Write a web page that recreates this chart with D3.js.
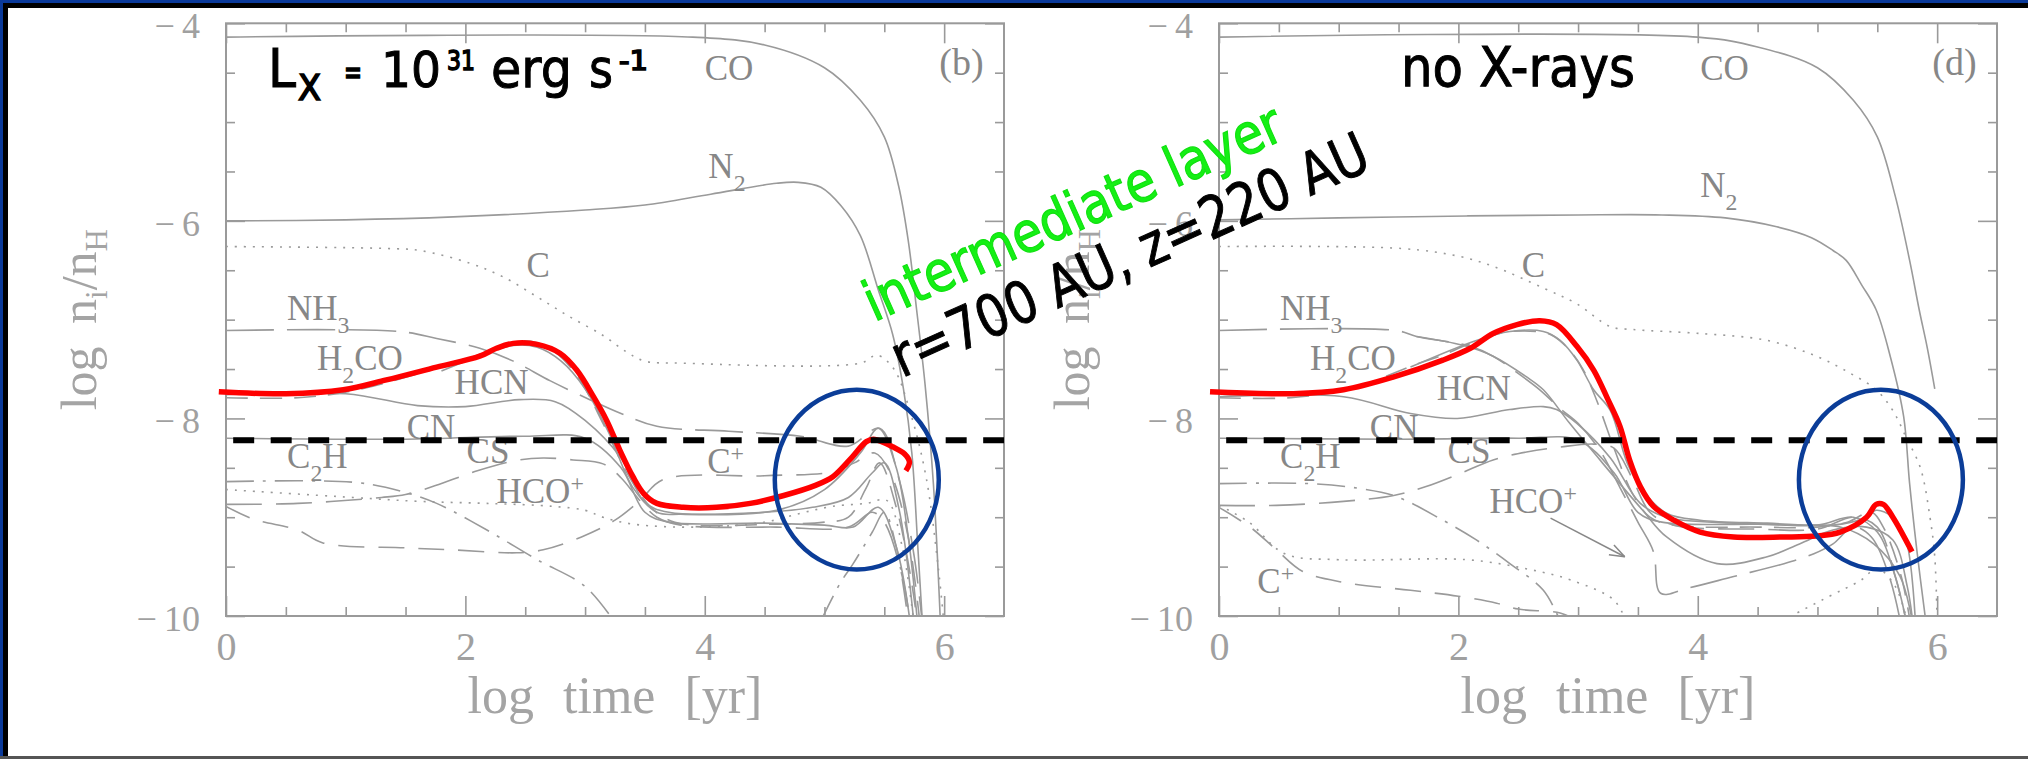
<!DOCTYPE html>
<html>
<head>
<meta charset="utf-8">
<script src="https://cdn.jsdelivr.net/npm/d3@7"></script>
<style>
  html, body { margin: 0; padding: 0; background: #fff; }
  svg { display: block; }
</style>
</head>
<body>
<script>
// axis setup
const xDomain = [0, 6.5];
const yDomain = [-10, -4];
const xTickLabels = [0, 2, 4, 6];
const yTickLabels = [-4, -6, -8, -10];
const thresholdLevel = -8.22;
const thresholdSpan = [0.06, 6.5];

// species names, same order for both panels
const labelNames = ["CO", "N_2", "C", "NH_3", "H_2CO", "HCN", "CN", "C_2H", "CS", "HCO^+", "C^+"];

// ---- panel (b): L_X = 1e31 erg/s ----
const coB = [[0,-4.14],[3.9,-4.14],[4.5,-4.22],[5.0,-4.45],[5.3,-4.78],[5.5,-5.15],[5.62,-5.65],[5.7,-6.2],[5.77,-6.9],[5.84,-7.65],[5.91,-8.66],[5.97,-10.1]];
const n2B = [[0,-6.0],[1.0,-5.99],[1.9,-5.96],[3.0,-5.89],[3.5,-5.84],[4.05,-5.73],[4.6,-5.62],[4.78,-5.61],[4.97,-5.66],[5.14,-5.85],[5.3,-6.15],[5.45,-6.7],[5.57,-7.15],[5.66,-7.7],[5.73,-8.35],[5.78,-9.3],[5.82,-10.1]];
const cB = [[0,-6.26],[1.35,-6.28],[1.62,-6.3],[2.04,-6.43],[2.32,-6.57],[2.6,-6.77],[2.87,-6.97],[3.15,-7.16],[3.35,-7.33],[3.5,-7.42],[3.8,-7.44],[5.3,-7.44],[5.44,-7.36],[5.58,-7.5],[5.72,-7.95],[5.85,-8.6],[5.95,-9.5],[6.0,-10.1]];
const nh3B = [[0,-7.11],[1.45,-7.12],[1.76,-7.19],[2.12,-7.29],[2.4,-7.42],[2.71,-7.62],[3.04,-7.81],[3.3,-7.95],[3.6,-8.08],[4.2,-8.13],[4.8,-8.18],[5.2,-8.28],[5.46,-8.1],[5.62,-8.6],[5.75,-9.4],[5.82,-10.1]];
const h2coB = [[0,-7.79],[0.6,-7.79],[1.06,-7.72],[1.6,-7.55],[2.1,-7.36],[2.35,-7.24],[2.55,-7.22],[2.75,-7.33],[2.95,-7.6],[3.15,-8.05],[3.35,-8.55],[3.55,-8.9],[3.75,-9.05],[4.6,-9.07],[5.0,-9.05],[5.2,-9.0],[5.35,-8.7],[5.46,-8.45],[5.6,-8.9],[5.72,-9.6],[5.78,-10.1]];
const hcnB = [[0,-7.76],[1.0,-7.75],[1.6,-7.87],[2.0,-7.88],[2.45,-7.81],[2.75,-7.83],[3.0,-8.02],[3.3,-8.4],[3.5,-8.85],[3.7,-8.95],[4.5,-8.95],[4.9,-8.9],[5.2,-8.8],[5.4,-8.55],[5.5,-8.45],[5.62,-8.9],[5.75,-10.1]];
const peakB = [[1.8,-7.52],[2.2,-7.33],[2.4,-7.26],[2.6,-7.28],[2.8,-7.42],[3.0,-7.7],[3.2,-8.15],[3.4,-8.7],[3.6,-8.95],[3.8,-8.97],[4.6,-8.93],[5.0,-8.72],[5.3,-8.35],[5.45,-8.1],[5.6,-8.5],[5.7,-9.2],[5.78,-10.1]];
const cnB = [[0,-8.2],[1.5,-8.21],[2.5,-8.18],[3.0,-8.2],[3.3,-8.5],[3.5,-8.95],[3.7,-9.05],[4.5,-9.06],[5.0,-9.08],[5.24,-9.1],[5.45,-8.9],[5.6,-9.3],[5.72,-10.1]];
const c2hB = [[0,-8.64],[1.1,-8.65],[1.5,-8.75],[1.76,-8.86],[2.18,-9.13],[2.6,-9.43],[3.0,-9.7],[3.24,-10.05]];
const c2hLateB = [[4.97,-10.05],[5.13,-9.67],[5.24,-9.47],[5.4,-9.15],[5.5,-8.95],[5.6,-9.3],[5.7,-10.05]];
const hcopB = [[0,-8.72],[1.06,-8.8],[1.62,-8.84],[2.18,-8.86],[2.73,-8.89],[3.0,-8.93],[3.15,-9.0],[3.4,-9.07],[3.96,-9.1],[4.5,-9.05],[4.8,-8.96],[5.07,-8.89],[5.35,-8.86],[5.52,-8.83],[5.65,-9.3],[5.75,-10.1]];
const csB = [[0,-8.87],[0.6,-8.86],[1.3,-8.8],[1.5,-8.77],[1.75,-8.68],[2.1,-8.53],[2.45,-8.42],[2.65,-8.4],[2.9,-8.42],[3.15,-8.46],[3.3,-8.6],[3.45,-8.82],[3.6,-9.0],[3.8,-9.08],[4.6,-9.1],[5.2,-9.1],[5.4,-8.95],[5.5,-9.05],[5.65,-9.6],[5.72,-10.1]];
const cpB = [[0,-8.89],[0.23,-9.02],[0.6,-9.13],[0.81,-9.26],[1.5,-9.31],[1.89,-9.33],[2.43,-9.36],[2.65,-9.33],[2.97,-9.2],[3.25,-9.03],[3.46,-8.83],[3.65,-8.62],[4.5,-8.58],[5.07,-8.54],[5.25,-8.45],[5.42,-8.35],[5.55,-8.55],[5.7,-9.2],[5.8,-10.1]];
const redB = [[-0.06,-7.73],[0.5,-7.75],[0.98,-7.71],[1.34,-7.61],[1.76,-7.48],[2.12,-7.37],[2.26,-7.29],[2.4,-7.24],[2.6,-7.25],[2.79,-7.34],[2.93,-7.51],[3.07,-7.78],[3.18,-8.02],[3.29,-8.32],[3.4,-8.59],[3.49,-8.76],[3.6,-8.86],[3.82,-8.9],[4.1,-8.9],[4.38,-8.86],[4.66,-8.78],[4.93,-8.675],[5.07,-8.59],[5.21,-8.42],[5.35,-8.235],[5.41,-8.21],[5.575,-8.29],[5.67,-8.36],[5.71,-8.44],[5.68,-8.53]];
const labelPosB = [[4.0,-4.574],[4.03,-5.566],[2.51,-6.568],[0.51,-7.004],[0.76,-7.51],[1.91,-7.753],[1.51,-8.208],[0.51,-8.502],[2.01,-8.451],[2.26,-8.856],[4.02,-8.552]];
const ringB = [5.27, -8.62];

// ---- panel (d): no X-rays ----
const coD = [[0,-4.14],[4.0,-4.14],[4.5,-4.24],[5.0,-4.45],[5.3,-4.78],[5.5,-5.15],[5.65,-5.75],[5.77,-6.4],[5.85,-6.9],[5.92,-7.3],[5.98,-7.7]];
const n2D = [[0,-5.99],[1.0,-5.97],[2.07,-5.95],[3.0,-5.94],[3.7,-5.94],[4.23,-5.97],[4.66,-6.06],[4.95,-6.17],[5.13,-6.3],[5.24,-6.4],[5.37,-6.65],[5.49,-6.9],[5.61,-7.38],[5.72,-7.98],[5.77,-8.66],[5.83,-9.33],[5.91,-10.1]];
const cD = [[0,-6.26],[1.53,-6.28],[2.01,-6.36],[2.29,-6.46],[2.71,-6.68],[2.99,-6.84],[3.27,-7.07],[3.46,-7.1],[4.02,-7.14],[4.58,-7.21],[4.99,-7.37],[5.27,-7.54],[5.49,-7.71],[5.63,-7.92],[5.74,-8.19],[5.86,-8.5],[5.94,-9.0],[5.98,-9.4],[6.0,-10.1]];
const nh3D = [[0,-7.11],[1.48,-7.11],[1.65,-7.17],[2.1,-7.27],[2.29,-7.37],[2.54,-7.58],[2.68,-7.71],[2.85,-7.9],[3.0,-8.05],[3.18,-8.32],[3.35,-8.7],[3.5,-9.05],[3.63,-9.35],[3.69,-9.77],[3.91,-9.72],[4.3,-9.6],[4.72,-9.47],[4.97,-9.37],[5.13,-9.27],[5.3,-9.1],[5.45,-9.2],[5.6,-9.6],[5.7,-10.1]];
const h2coD = [[0,-7.79],[0.6,-7.79],[1.1,-7.7],[1.65,-7.45],[1.87,-7.36],[2.04,-7.27],[2.26,-7.17],[2.43,-7.12],[2.71,-7.13],[2.8,-7.17],[2.93,-7.31],[3.04,-7.5],[3.15,-7.8],[3.3,-8.3],[3.45,-8.75],[3.6,-9.0],[3.8,-9.08],[4.5,-9.1],[5.0,-9.1],[5.25,-9.05],[5.45,-8.95],[5.55,-9.1],[5.7,-9.6],[5.78,-10.1]];
const hcnD = [[0,-7.78],[1.04,-7.78],[1.6,-7.95],[1.99,-8.0],[2.43,-7.91],[2.71,-7.88],[2.82,-7.91],[2.99,-8.05],[3.27,-8.4],[3.52,-8.86],[3.74,-9.0],[4.3,-9.06],[4.85,-9.08],[5.19,-9.1],[5.47,-9.27],[5.69,-9.6],[5.8,-10.1]];
const peakD = [[1.6,-7.48],[2.15,-7.21],[2.43,-7.12],[2.71,-7.12],[2.85,-7.21],[2.99,-7.41],[3.13,-7.71],[3.27,-7.92],[3.41,-8.45],[3.54,-8.73],[3.74,-8.96],[4.02,-9.03],[4.58,-9.06],[5.13,-9.08],[5.41,-9.0],[5.49,-8.93],[5.63,-9.0],[5.74,-9.23],[5.82,-10.1]];
const dipD = [[1.65,-7.17],[2.04,-7.26],[2.29,-7.37],[2.57,-7.58],[2.71,-7.71],[2.93,-8.05],[3.21,-8.46],[3.54,-8.93],[3.74,-9.2],[4.16,-9.47],[4.58,-9.4],[4.85,-9.27],[5.13,-9.13],[5.41,-9.1],[5.63,-9.23],[5.75,-9.7],[5.8,-10.1]];
const cnD = [[0,-8.2],[1.5,-8.21],[2.5,-8.2],[3.0,-8.22],[3.3,-8.55],[3.5,-8.95],[3.7,-9.05],[4.5,-9.07],[5.0,-9.08],[5.3,-9.0],[5.5,-9.15],[5.65,-9.6],[5.75,-10.1]];
const c2hD = [[0,-8.66],[0.76,-8.66],[1.18,-8.71],[1.48,-8.79],[1.87,-9.03],[2.15,-9.23],[2.43,-9.47],[2.71,-9.74],[2.85,-10.05]];
const csD = [[0,-8.88],[0.48,-8.88],[1.04,-8.84],[1.46,-8.78],[1.73,-8.69],[2.01,-8.56],[2.29,-8.42],[2.57,-8.34],[2.85,-8.29],[3.13,-8.26],[3.3,-8.3],[3.45,-8.6],[3.6,-8.95],[3.8,-9.08],[4.5,-9.12],[5.0,-9.12],[5.3,-9.0],[5.5,-9.1],[5.65,-9.6],[5.75,-10.1]];
const cpD = [[0,-8.9],[0.26,-9.1],[0.48,-9.33],[0.7,-9.55],[1.04,-9.66],[1.6,-9.74],[2.0,-9.8],[2.32,-9.87],[2.5,-9.93],[2.85,-9.97],[3.0,-10.05]];
const hcopD = [[0,-8.88],[0.25,-9.05],[0.55,-9.37],[1.0,-9.43],[2.07,-9.43],[2.6,-9.53],[2.95,-9.64],[3.3,-9.84],[3.4,-10.05]];
const hcopLateD = [[4.7,-10.05],[5.1,-9.8],[5.36,-9.64],[5.5,-9.52],[5.65,-9.7],[5.75,-10.05]];
const redD = [[-0.075,-7.73],[0.62,-7.75],[1.04,-7.71],[1.46,-7.58],[1.87,-7.41],[2.1,-7.29],[2.29,-7.14],[2.49,-7.05],[2.68,-7.01],[2.82,-7.05],[2.99,-7.27],[3.13,-7.51],[3.25,-7.81],[3.35,-8.08],[3.43,-8.42],[3.52,-8.69],[3.63,-8.89],[3.8,-9.03],[4.02,-9.15],[4.3,-9.2],[4.72,-9.2],[4.99,-9.19],[5.19,-9.15],[5.41,-9.0],[5.49,-8.87],[5.55,-8.87],[5.63,-9.0],[5.79,-9.35]];
const arrowD = [[2.77,-9.01],[3.39,-9.4]];
const labelPosD = [[4.02,-4.574],[4.02,-5.758],[2.53,-6.568],[0.51,-7.004],[0.76,-7.51],[1.82,-7.814],[1.26,-8.208],[0.51,-8.502],[1.91,-8.451],[2.26,-8.957],[0.32,-9.767]];
const ringD = [5.53, -8.62];
const ringRadius = [0.685, 0.91];

// ---------------------------------------------------------------
const W = 2028, H = 759;
const serif = "'Liberation Serif', 'DejaVu Serif', serif";
const hand = "'DejaVu Sans', sans-serif";
const curveGray = "#9a9a9a";
const axisGray = "#9a9a9a";

const dashes = {
  solid: null,
  dot: "2,7",
  dash: "22,12",
  longdash: "48,13",
  midlong: "36,14",
  cplus: "26,14",
  dashdot: "28,9,3,9"
};

const svg = d3.select("body").append("svg").attr("width", W).attr("height", H);
svg.append("rect").attr("width", W).attr("height", H).attr("fill", "#fff");

// slide frame
svg.append("rect").attr("x", 0).attr("y", 0).attr("width", W).attr("height", 8).attr("fill", "#000");
svg.append("rect").attr("x", 0).attr("y", 0).attr("width", 8).attr("height", 757).attr("fill", "#000");
svg.append("rect").attr("x", 0).attr("y", 0).attr("width", W).attr("height", 3).attr("fill", "#0b3a9a");
svg.append("rect").attr("x", 0).attr("y", 0).attr("width", 3).attr("height", 757).attr("fill", "#0b3a9a");
svg.append("rect").attr("x", 0).attr("y", 756).attr("width", W).attr("height", 3).attr("fill", "#555");

// "_" subscript, "^" superscript; braces group several characters
function richText(sel, str, size, opt = {}) {
  const subScale = opt.subScale || 0.7, supScale = opt.supScale || 0.7;
  const subShift = opt.subShift != null ? opt.subShift : 0.33;
  const supShift = opt.supShift != null ? opt.supShift : 0.33;
  let shift = 0;
  str.split(/([_^](?:\{[^}]*\}|.))/).filter(s => s).forEach(part => {
    let target = 0, txt = part, fs = size;
    if (part[0] === "_" || part[0] === "^") {
      txt = part.slice(1).replace(/[{}]/g, "");
      if (part[0] === "_") { target = size * subShift; fs = size * subScale; }
      else { target = -size * supShift; fs = size * supScale; }
    }
    sel.append("tspan").attr("dy", target - shift).attr("font-size", fs).text(txt);
    shift = target;
  });
}

const panels = [
  {
    id: "b", left: 226, tag: "(b)", red: redB, ring: ringB, labelPos: labelPosB, arrow: null,
    curves: [
      [coB, "solid"], [n2B, "solid"], [cB, "dot"], [nh3B, "longdash"], [h2coB, "dash"],
      [hcnB, "solid"], [peakB, "solid"], [cnB, "solid"], [c2hB, "dashdot"], [c2hLateB, "dashdot"],
      [hcopB, "dot"], [csB, "midlong"], [cpB, "cplus"]
    ]
  },
  {
    id: "d", left: 1219, tag: "(d)", red: redD, ring: ringD, labelPos: labelPosD, arrow: arrowD,
    curves: [
      [coD, "solid"], [n2D, "solid"], [cD, "dot"], [nh3D, "longdash"], [h2coD, "dash"],
      [hcnD, "solid"], [peakD, "solid"], [dipD, "solid"], [cnD, "solid"], [c2hD, "dashdot"],
      [csD, "midlong"], [cpD, "cplus"], [hcopD, "dot"], [hcopLateD, "dot"]
    ]
  }
];

const plotW = 778;
const y = d3.scaleLinear().domain(yDomain).range([616, 23.3]);

panels.forEach(p => {
  const x = d3.scaleLinear().domain(xDomain).range([p.left, p.left + plotW]);
  const g = svg.append("g");

  g.append("clipPath").attr("id", "clip-" + p.id)
    .append("rect")
    .attr("x", x(0)).attr("y", y(-4))
    .attr("width", x(6.5) - x(0)).attr("height", y(-10) - y(-4));

  const line = d3.line().x(d => x(d[0])).y(d => y(d[1])).curve(d3.curveCatmullRom.alpha(0.5));

  // gray abundance curves
  g.append("g").attr("clip-path", `url(#clip-${p.id})`)
    .selectAll("path")
    .data(p.curves)
    .join("path")
    .attr("d", d => line(d[0]))
    .attr("fill", "none")
    .attr("stroke", curveGray)
    .attr("stroke-width", 1.6)
    .attr("stroke-dasharray", d => dashes[d[1]]);

  if (p.arrow) {
    const [a, b] = p.arrow;
    const x1 = x(a[0]), y1 = y(a[1]), x2 = x(b[0]), y2 = y(b[1]);
    const ang = Math.atan2(y2 - y1, x2 - x1);
    g.append("line").attr("x1", x1).attr("y1", y1).attr("x2", x2).attr("y2", y2)
      .attr("stroke", "#888").attr("stroke-width", 1.5);
    [-0.35, 0.35].forEach(da => {
      g.append("line").attr("x1", x2).attr("y1", y2)
        .attr("x2", x2 - 16 * Math.cos(ang + da)).attr("y2", y2 - 16 * Math.sin(ang + da))
        .attr("stroke", "#888").attr("stroke-width", 1.5);
    });
  }

  // species labels
  labelNames.forEach((name, i) => {
    const t = g.append("text")
      .attr("x", x(p.labelPos[i][0])).attr("y", y(p.labelPos[i][1]))
      .attr("font-family", serif).attr("font-size", 35).attr("fill", "#878787");
    richText(t, name, 35, { subShift: 0.36, supShift: 0.34, subScale: 0.68, supScale: 0.68 });
  });
  g.append("text").attr("x", x(5.96)).attr("y", y(-4.523))
    .attr("font-family", serif).attr("font-size", 38).attr("fill", "#878787")
    .text(p.tag);

  // ticks: minor every 0.5, major on labelled values
  const minorX = d3.range(0.5, 6.5, 0.5).filter(v => v % 2 !== 0);
  const minorY = d3.range(-4.5, -10, -0.5).filter(v => v % 2 !== 0);
  const styleAxis = sel => {
    sel.select(".domain").remove();
    sel.attr("color", axisGray).selectAll("line").attr("stroke-width", 1.6);
  };
  const ax = g.append("g");
  ax.append("g").attr("transform", `translate(0,${y(-10)})`)
    .call(d3.axisBottom(x).tickValues(minorX).tickSize(-9).tickFormat("")).call(styleAxis);
  ax.append("g").attr("transform", `translate(0,${y(-4)})`)
    .call(d3.axisTop(x).tickValues(minorX).tickSize(-9).tickFormat("")).call(styleAxis);
  ax.append("g").attr("transform", `translate(0,${y(-4)})`)
    .call(d3.axisTop(x).tickValues(xTickLabels).tickSize(-20).tickFormat("")).call(styleAxis);
  ax.append("g").attr("transform", `translate(${x(0)},0)`)
    .call(d3.axisLeft(y).tickValues(minorY).tickSize(-9).tickFormat("")).call(styleAxis);
  ax.append("g").attr("transform", `translate(${x(6.5)},0)`)
    .call(d3.axisRight(y).tickValues(minorY).tickSize(-9).tickFormat("")).call(styleAxis);
  ax.append("g").attr("transform", `translate(${x(6.5)},0)`)
    .call(d3.axisRight(y).tickValues(yTickLabels).tickSize(-19).tickFormat("")).call(styleAxis);

  const bottom = ax.append("g").attr("transform", `translate(0,${y(-10)})`)
    .call(d3.axisBottom(x).tickValues(xTickLabels).tickSize(-20).tickPadding(16).tickFormat(d3.format("d")))
    .call(styleAxis);
  bottom.attr("font-family", serif).attr("font-size", 40)
    .selectAll("text").attr("fill", "#a0a0a0");

  const left = ax.append("g").attr("transform", `translate(${x(0)},0)`)
    .call(d3.axisLeft(y).tickValues(yTickLabels).tickSize(-19).tickPadding(26)
      .tickFormat(d => "\u2212\u2009" + Math.abs(d)))
    .call(styleAxis);
  left.attr("font-family", serif).attr("font-size", 36)
    .selectAll("text").attr("fill", "#a0a0a0").attr("dy", "0.4em");

  // frame
  g.append("rect")
    .attr("x", x(0)).attr("y", y(-4))
    .attr("width", x(6.5) - x(0)).attr("height", y(-10) - y(-4))
    .attr("fill", "none").attr("stroke", axisGray).attr("stroke-width", 2);

  // axis titles
  g.append("text")
    .attr("x", x(3.25)).attr("y", 713)
    .attr("text-anchor", "middle")
    .attr("font-family", serif).attr("font-size", 52).attr("fill", "#a4a4a4")
    .attr("word-spacing", 16)
    .text("log time [yr]");
  const yt = g.append("text")
    .attr("transform", `translate(${x(0) - 130},${y(-7)}) rotate(-90)`)
    .attr("text-anchor", "middle")
    .attr("font-family", serif).attr("font-size", 50).attr("fill", "#a4a4a4")
    .attr("word-spacing", 10);
  richText(yt, "log n_i/n_H", 50, { subShift: 0.22, subScale: 0.62 });

  // highlighted species
  g.append("path")
    .attr("d", line(p.red))
    .attr("fill", "none").attr("stroke", "#ff0000").attr("stroke-width", 5.5);

  // threshold dashed line
  g.append("line")
    .attr("x1", x(thresholdSpan[0])).attr("x2", x(thresholdSpan[1]))
    .attr("y1", y(thresholdLevel)).attr("y2", y(thresholdLevel))
    .attr("stroke", "#000").attr("stroke-width", 6).attr("stroke-dasharray", "21,16.5");

  // circled region
  g.append("ellipse")
    .attr("cx", x(p.ring[0])).attr("cy", y(p.ring[1]))
    .attr("rx", x(p.ring[0] + ringRadius[0]) - x(p.ring[0]))
    .attr("ry", y(p.ring[1] - ringRadius[1]) - y(p.ring[1]))
    .attr("fill", "none").attr("stroke", "#0b3d98").attr("stroke-width", 4.5);
});

// slide annotations (hand-written look: condensed, slightly heavier strokes)
// L_X line is set piece by piece so the small raised parts keep their own boxes
const lxParts = [
  { t: "L",   x: 268, y: 87,  size: 54, len: 28 },
  { t: "X",   x: 298, y: 100, size: 36, len: 23 },
  { t: "=",   x: 344, y: 84,  size: 36, len: 18 },
  { t: "10",  x: 381, y: 87,  size: 50, len: 60 },
  { t: "31",  x: 447, y: 70,  size: 27, len: 28 },
  { t: "erg", x: 491, y: 87,  size: 54, len: 81 },
  { t: "s",   x: 589, y: 87,  size: 54, len: 24 },
  { t: "-1",  x: 619, y: 70,  size: 27, len: 29 }
];
svg.append("g").selectAll("text")
  .data(lxParts)
  .join("text")
  .attr("x", d => d.x).attr("y", d => d.y)
  .attr("font-family", hand).attr("font-size", d => d.size).attr("fill", "#000")
  .attr("stroke", "#000").attr("stroke-width", d => d.size > 40 ? 1 : 1.6)
  .attr("textLength", d => d.len).attr("lengthAdjust", "spacingAndGlyphs")
  .text(d => d.t);

svg.append("text")
  .attr("x", 1401).attr("y", 86)
  .attr("font-family", hand).attr("font-size", 55).attr("fill", "#000")
  .attr("stroke", "#000").attr("stroke-width", 1)
  .attr("textLength", 234).attr("lengthAdjust", "spacingAndGlyphs")
  .text("no X-rays");

svg.append("text")
  .attr("transform", "translate(874,322) rotate(-24)")
  .attr("font-family", hand).attr("font-size", 56).attr("fill", "#14f014")
  .attr("stroke", "#10e010").attr("stroke-width", 1.2)
  .attr("textLength", 452).attr("lengthAdjust", "spacingAndGlyphs")
  .text("intermediate layer");

svg.append("text")
  .attr("transform", "translate(902,378) rotate(-24)")
  .attr("font-family", hand).attr("font-size", 58).attr("fill", "#000")
  .attr("stroke", "#000").attr("stroke-width", 1)
  .attr("textLength", 516).attr("lengthAdjust", "spacingAndGlyphs")
  .text("r=700 AU, z=220 AU");
</script>
</body>
</html>
